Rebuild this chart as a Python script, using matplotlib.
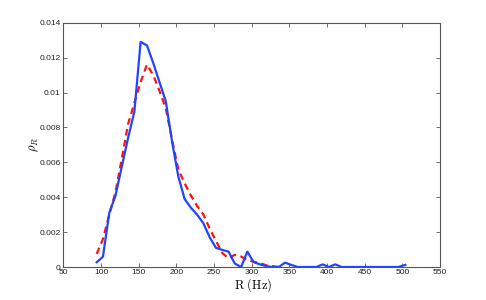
import matplotlib
matplotlib.use("Agg")
import matplotlib.pyplot as plt
from matplotlib.ticker import FixedLocator, FixedFormatter

# bin centres (Hz)
R = [94.3, 102.6, 111.0, 119.3, 127.6, 136.0, 144.3, 152.6, 161.0, 169.3,
     177.6, 186.0, 194.3, 202.6, 211.0, 219.3, 227.6, 236.0, 244.3, 252.6,
     261.0, 269.3, 277.6, 286.0, 294.3, 302.6, 311.0, 319.3, 327.6, 336.0,
     344.3, 352.6, 361.0, 369.3, 377.6, 386.0, 394.3, 402.6, 411.0, 419.3,
     427.6, 436.0, 444.3, 452.6, 461.0, 469.3, 477.6, 486.0, 494.3, 504.0]

measured = [0.00027, 0.00059, 0.0031, 0.0041, 0.00575, 0.0074, 0.0089, 0.0129, 0.0127, 0.0117,
            0.0106, 0.0095, 0.0072, 0.0052, 0.0039, 0.0034, 0.0030, 0.0025, 0.0017, 0.0011,
            0.00098, 0.00088, 0.0002, 0.0, 0.00088, 0.00028, 0.00015, 0.00005, 0.0, 0.0,
            0.00025, 0.00012, 0.0, 0.0, 0.0, 0.0, 0.00015, 0.0, 0.00015, 0.0,
            0.0, 0.0, 0.0, 0.0, 0.0, 0.0, 0.0, 0.0, 0.0, 0.00012]

model = [0.00075, 0.0016, 0.0030, 0.0043, 0.0062, 0.0082, 0.0094, 0.0106, 0.0116, 0.0110,
         0.0101, 0.0091, 0.0073, 0.0056, 0.0048, 0.0041, 0.0035, 0.0030, 0.0022, 0.0015,
         0.0008, 0.0005, 0.0007, 0.0006, 0.0004, 0.0003, 0.00022, 0.0001, 0.00005, 0.0]

xticks = [50, 100, 150, 200, 250, 300, 350, 400, 450, 500, 550]
yticks = [0, 0.002, 0.004, 0.006, 0.008, 0.010, 0.012, 0.014]
ytick_labels = ["0", "0.002", "0.004", "0.006", "0.008", "0.01", "0.012", "0.014"]

plt.rcParams['font.family'] = ['Liberation Sans', 'DejaVu Sans']
plt.rcParams['mathtext.fontset'] = 'cm'

fig = plt.figure(figsize=(4.86, 3.0), dpi=100)
ax = fig.add_axes([0.1303, 0.11, 0.7750, 0.8143])

ax.plot(R, measured, color='#2244ff', lw=1.6, zorder=3)
ax.plot(R[:len(model)], model, color='#ff1111', lw=1.6, ls=(0, (3, 2)), zorder=2)

ax.set_xlim(50, 550)
ax.set_ylim(0, 0.014)
ax.xaxis.set_major_locator(FixedLocator(xticks))
ax.xaxis.set_major_formatter(FixedFormatter([str(t) for t in xticks]))
ax.yaxis.set_major_locator(FixedLocator(yticks))
ax.yaxis.set_major_formatter(FixedFormatter(ytick_labels))

axc = '#555555'
for s in ax.spines.values():
    s.set_color(axc)
    s.set_linewidth(0.8)
ax.tick_params(direction='in', length=3, width=0.6, color=axc, labelsize=6,
               labelcolor='#222222', top=True, right=True)
ax.tick_params(axis='x', pad=1.5)
ax.tick_params(axis='y', pad=2)

ax.set_xlabel(r'$\mathrm{R\ (Hz)}$', fontsize=9)
ax.xaxis.set_label_coords(0.503, -0.074)
ax.xaxis.label.set_va('center')
ax.set_ylabel(r'$\rho_R$', fontsize=9)
ax.yaxis.set_label_coords(-0.077, 0.5)
ax.yaxis.label.set_va('center')

fig.savefig('out.png', dpi=100)
